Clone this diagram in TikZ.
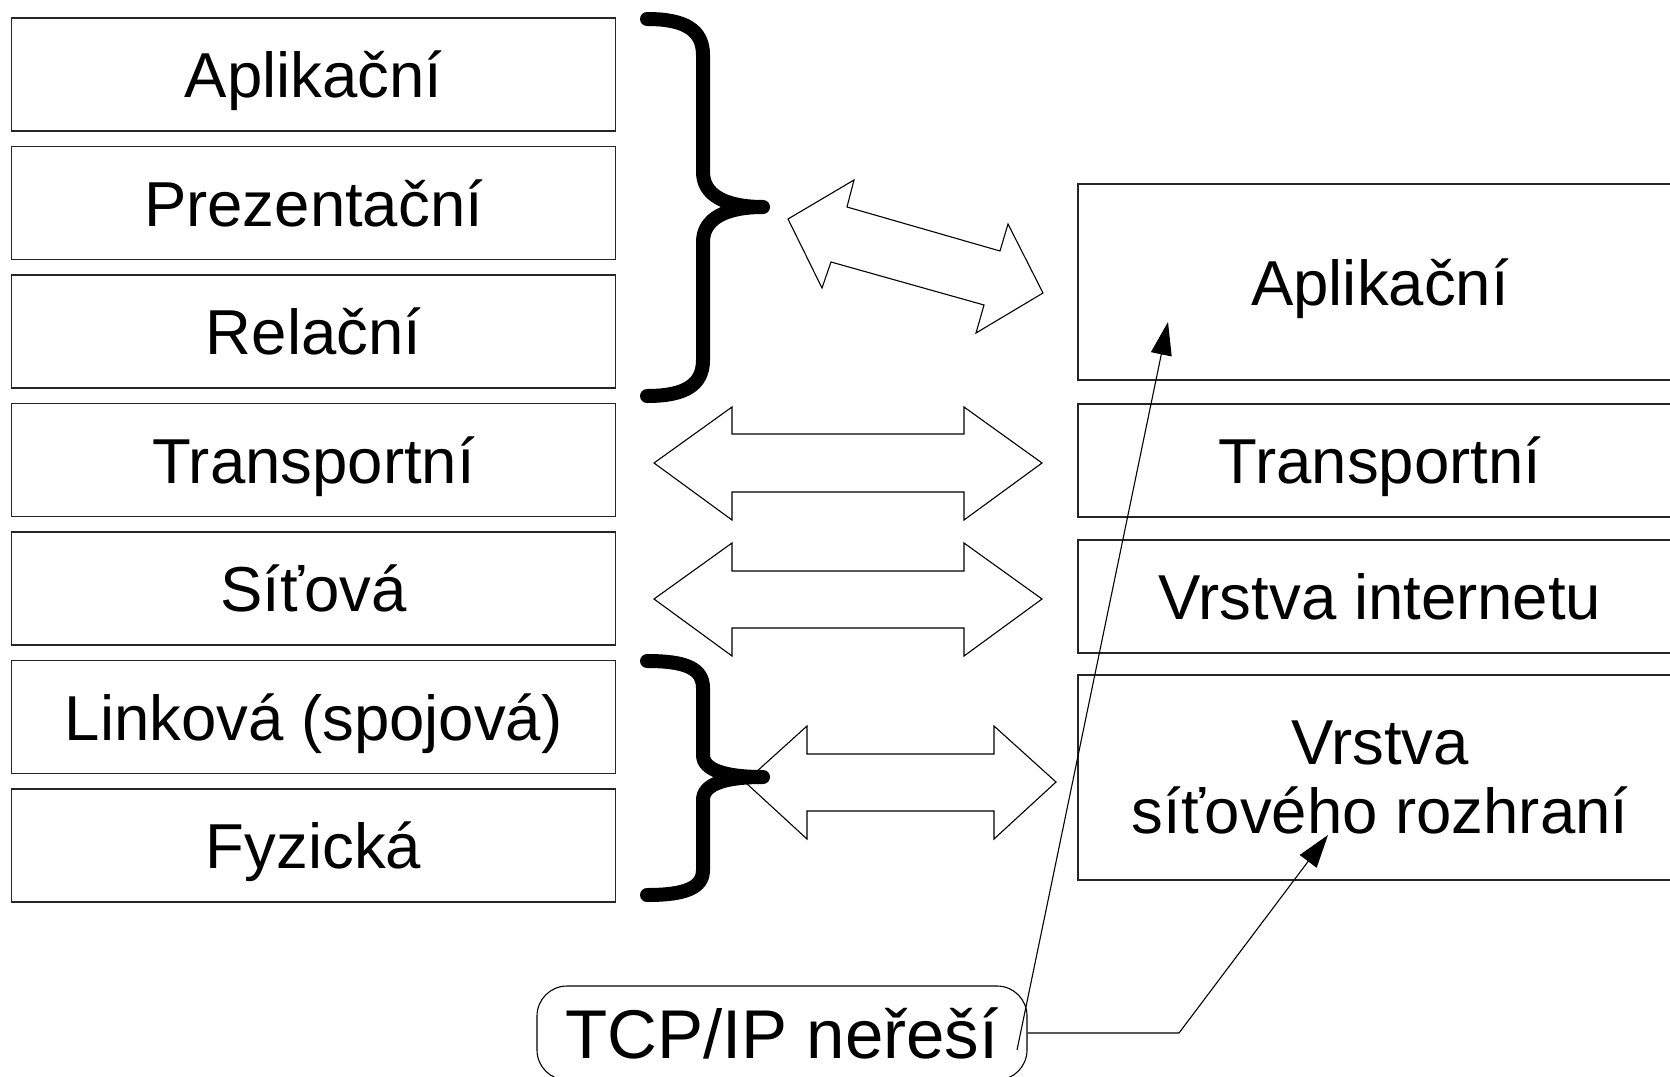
\documentclass[tikz,border=0pt]{standalone}
\usepackage{fontspec}
\setmainfont{Liberation Sans}
\usetikzlibrary{arrows.meta}
\begin{document}
\begin{tikzpicture}[x=1pt,y=-1pt,
  layer/.style={draw=black!85, line width=1.1pt, minimum width=604pt, inner sep=0pt,
    font=\fontsize{63.5}{69}\selectfont, text height=46pt, text depth=0pt},
  twoline/.style={draw=black!85, line width=1.1pt, minimum width=604pt, inner sep=0pt,
    font=\fontsize{63.5}{69}\selectfont, align=center},
  bracestroke/.style={line width=14pt, line cap=round, line join=round},
  dblarrow/.style={draw=black, fill=white, line width=1.1pt, line join=miter},
  conn/.style={line width=1.1pt, -{Triangle[length=33pt,width=21pt]}},
  notebox/.style={draw=black, line width=1.1pt, rounded corners=30pt, minimum width=490pt,
    minimum height=94pt, inner sep=0pt, font=\fontsize{69}{75}\selectfont,
    text height=50pt, text depth=0pt}]
\useasboundingbox (0,0) rectangle (1670,1076);

% OSI layers (left)
\node[layer, minimum height=113pt] (osi1) at (313.6,74.5)  {Aplikační};
\node[layer, minimum height=113pt] (osi2) at (313.6,203)   {Prezentační};
\node[layer, minimum height=113pt] (osi3) at (313.6,331.5) {Relační};
\node[layer, minimum height=113pt] (osi4) at (313.6,460)   {Transportní};
\node[layer, minimum height=113pt] (osi5) at (313.6,588.5) {Síťová};
\node[layer, minimum height=113pt] (osi6) at (313.6,717)   {Linková (spojová)};
\node[layer, minimum height=113pt] (osi7) at (313.6,845.5) {Fyzická};

% TCP/IP layers (right)
\node[layer, minimum height=196pt] (tcp1) at (1380,282)   {Aplikační};
\node[layer, minimum height=113pt] (tcp2) at (1380,460.5) {Transportní};
\node[layer, minimum height=113pt] (tcp3) at (1380,596.5) {Vrstva internetu};
\node[twoline, minimum height=205pt] (tcp4) at (1380,777.5) {Vrstva\\síťového rozhraní};

% double arrows
\draw[dblarrow] (788,219) -- (854,180) -- (847,207) -- (1000,251) -- (1008,224) -- (1043,293)
  -- (976,333) -- (984,305) -- (831,262) -- (822,288) -- cycle;
\draw[dblarrow] (654,463) -- (732,407) -- (732,434) -- (964,434) -- (964,407) -- (1042,463)
  -- (964,520) -- (964,492) -- (732,492) -- (732,520) -- cycle;
\draw[dblarrow] (654,599) -- (732,543) -- (732,571) -- (964,571) -- (964,543) -- (1042,599)
  -- (964,656) -- (964,628) -- (732,628) -- (732,656) -- cycle;
\draw[dblarrow] (745,782) -- (807,726) -- (807,754) -- (994,754) -- (994,726) -- (1056,782)
  -- (994,839) -- (994,811) -- (807,811) -- (807,839) -- cycle;

% braces
\draw[bracestroke] (647,19) .. controls (685,19) and (703,30) .. (703,55) -- (703,172)
  .. controls (703,195) and (725,207) .. (763,207)
  .. controls (725,207) and (703,219) .. (703,242) -- (703,360)
  .. controls (703,385) and (685,396) .. (647,396);
\draw[bracestroke] (647,661) .. controls (685,661) and (703,668) .. (703,688) -- (703,755)
  .. controls (703,770) and (725,777) .. (763,777)
  .. controls (725,777) and (703,784) .. (703,800) -- (703,870)
  .. controls (703,888) and (685,895) .. (647,895);

% note
\node[notebox] (note) at (782,1033) {TCP/IP neřeší};
\coordinate (noteA) at (1017,1050);
\coordinate (bend) at (1179,1033);
\coordinate (tipApl) at (1168,322);
\coordinate (tipNet) at (1328,835);
\draw[conn] (noteA) -- (tipApl);
\draw[conn] (note.east) -- (bend) -- (tipNet);
\end{tikzpicture}
\end{document}
